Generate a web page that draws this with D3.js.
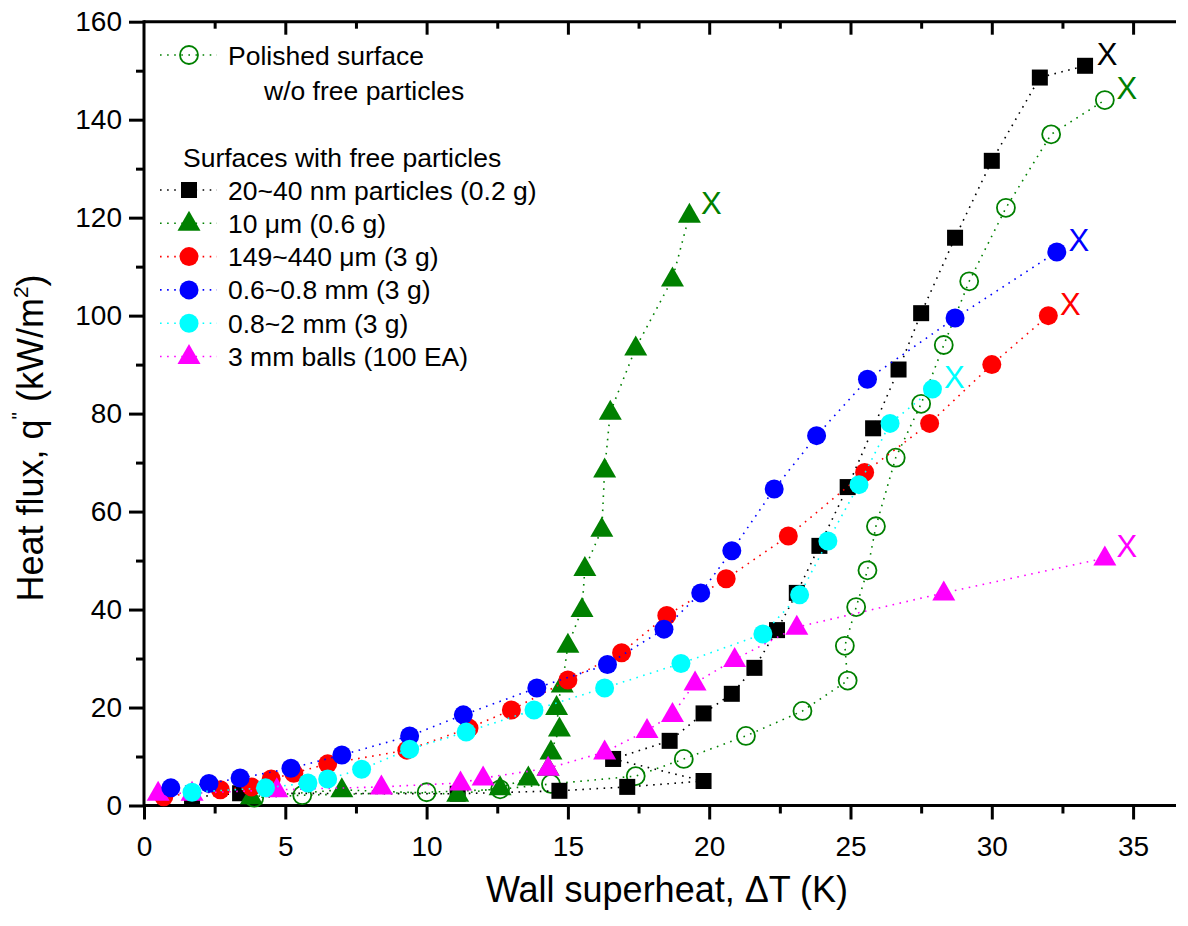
<!DOCTYPE html>
<html>
<meta charset="utf-8">
<title>Heat flux vs wall superheat</title>
<style>
html, body { margin: 0; background: #fff; }
svg { font-family: "Liberation Sans", Arial, sans-serif; }
.axis path { display: none; }
.axis line { stroke: #000; stroke-width: 3; }
.axis text { font-size: 28px; fill: #000; }
.series path.link { fill: none; stroke-width: 1.6; stroke-dasharray: 1.6 5.5; }
.legend text { font-size: 26.5px; fill: #000; }
</style>
<body>
<svg></svg>
<script src="https://d3js.org/d3.v7.min.js"></script>
<script>

// ---- data ----
var polishedX = [3.9, 5.6, 10.0, 12.6, 14.4, 17.4, 19.1, 21.3, 23.3, 24.9, 24.8, 25.2, 25.6, 25.9, 26.6, 27.5, 28.3, 29.2, 30.5, 32.1, 34.0];
var polishedY = [1.6, 2.1, 2.7, 3.3, 4.4, 6.0, 9.5, 14.2, 19.3, 25.5, 32.6, 40.5, 48, 57, 71, 82, 94, 107, 122, 137, 144];

var nanoX = [1.7, 3.4, 11.1, 14.7, 17.1, 19.8, 16.6, 18.6, 19.8, 20.8, 21.6, 22.4, 23.1, 23.9, 24.9, 25.8, 26.7, 27.5, 28.7, 30.0, 31.7, 33.3];
var nanoY = [1.7, 2.5, 2.4, 3.0, 3.8, 5.0, 9.5, 13.2, 18.8, 22.8, 28.1, 35.8, 43.4, 53, 65, 77, 89, 100.5, 115.9, 131.6, 148.6, 151];

var microX = [3.8, 7.0, 11.1, 12.6, 13.6, 14.3, 14.4, 14.7, 14.6, 14.8, 15.0, 15.5, 15.6, 16.2, 16.3, 16.5, 17.4, 18.7, 19.3];
var microY = [1.8, 3.2, 2.3, 3.6, 5.6, 7.6, 10.9, 15.6, 20.0, 24.6, 32.7, 40.0, 48.4, 56.4, 68.5, 80.3, 93.4, 107.5, 120.5];

var redX = [0.7, 2.7, 3.8, 4.5, 5.3, 6.5, 9.3, 11.5, 13.0, 15.0, 16.9, 18.5, 20.6, 22.8, 25.5, 27.8, 30.0, 32.0];
var redY = [1.8, 3.2, 3.8, 5.4, 6.6, 8.5, 11.3, 15.8, 19.5, 25.6, 31.2, 38.8, 46.3, 55, 68, 78, 90, 100];

var blueX = [0.95, 2.3, 3.4, 5.2, 7.0, 9.4, 11.3, 13.9, 16.4, 18.4, 19.7, 20.8, 22.3, 23.8, 25.6, 28.7, 32.3];
var blueY = [3.6, 4.5, 5.6, 7.6, 10.3, 14.2, 18.5, 24.0, 28.8, 36.0, 43.4, 52.0, 64.6, 75.5, 87.0, 99.5, 113.0];

var cyanX = [1.7, 4.3, 5.8, 6.5, 7.7, 9.4, 11.4, 13.8, 16.3, 19.0, 21.9, 23.2, 24.2, 25.3, 26.4, 27.9];
var cyanY = [2.7, 3.6, 4.6, 5.4, 7.4, 11.5, 15.0, 19.5, 24.0, 29.0, 35.0, 43.0, 54.0, 65.5, 78.0, 85.0];

var ballX = [0.5, 1.7, 4.7, 8.4, 11.2, 12.0, 14.3, 16.3, 17.8, 18.7, 19.5, 20.9, 23.1, 28.3, 34.0];
var ballY = [2.5, 2.5, 3.2, 3.8, 4.6, 5.6, 7.6, 10.9, 15.3, 18.6, 25.0, 29.8, 36.4, 43.4, 50.5];

var xMajor = [0, 5, 10, 15, 20, 25, 30, 35];
var xMinor = [2.5, 7.5, 12.5, 17.5, 22.5, 27.5, 32.5];
var yMajor = [0, 20, 40, 60, 80, 100, 120, 140, 160];
var yMinor = [10, 30, 50, 70, 90, 110, 130, 150];

var labels = ["20~40 nm particles (0.2 g)", "10 \u03bcm (0.6 g)", "149~440 \u03bcm (3 g)",
              "0.6~0.8 mm (3 g)", "0.8~2 mm (3 g)", "3 mm balls (100 EA)"];

// ---- layout ----
var W = 1188, H = 926;
var svg = d3.select("svg").attr("width", W).attr("height", H);

var plotLeft = 144, plotTop = 21.7, plotBottom = 805.5, plotRight = 1176;
var x = d3.scaleLinear().domain([0, 37]).range([plotLeft, plotLeft + 37 * 28.26]);
var y = d3.scaleLinear().domain([0, 160]).range([plotBottom, plotTop]);

function zip(xs, ys) { return xs.map(function(v, i) { return [v, ys[i]]; }); }

var triPath = "M0,-12.5L11.5,7.5L-11.5,7.5Z";

// draw order bottom -> top
var series = [
  {name: "polished", data: zip(polishedX, polishedY), color: "#008000", shape: "open"},
  {name: "nano", data: zip(nanoX, nanoY), color: "#000000", shape: "square"},
  {name: "micro", data: zip(microX, microY), color: "#008000", shape: "tri"},
  {name: "red", data: zip(redX, redY), color: "#ff0000", shape: "circle"},
  {name: "ball", data: zip(ballX, ballY), color: "#ff00ff", shape: "tri"},
  {name: "blue", data: zip(blueX, blueY), color: "#0000ff", shape: "circle"},
  {name: "cyan", data: zip(cyanX, cyanY), color: "#00ffff", shape: "circle"}
];

function addMarker(sel, shape, color) {
  if (shape === "square") {
    sel.append("rect").attr("x", -8).attr("y", -8).attr("width", 16).attr("height", 16).attr("fill", color);
  } else if (shape === "tri") {
    sel.append("path").attr("d", triPath).attr("fill", color);
  } else if (shape === "open") {
    sel.append("circle").attr("r", 9).attr("fill", "none").attr("stroke", color).attr("stroke-width", 1.8);
  } else {
    sel.append("circle").attr("r", 9.5).attr("fill", color);
  }
}

// ---- axes ----
svg.append("g").attr("class", "axis")
    .attr("transform", "translate(0," + plotBottom + ")")
    .call(d3.axisBottom(x).tickValues(xMajor).tickSizeInner(14).tickSizeOuter(0).tickPadding(17));
svg.append("g").attr("class", "axis")
    .attr("transform", "translate(0," + plotBottom + ")")
    .call(d3.axisBottom(x).tickValues(xMinor).tickSize(8).tickFormat(""));
svg.append("g").attr("class", "axis")
    .attr("transform", "translate(0," + plotTop + ")")
    .call(d3.axisBottom(x).tickValues(xMajor.slice(1)).tickSize(13).tickFormat(""));
svg.append("g").attr("class", "axis")
    .attr("transform", "translate(0," + plotTop + ")")
    .call(d3.axisBottom(x).tickValues(xMinor).tickSize(7).tickFormat(""));
svg.append("g").attr("class", "axis")
    .attr("transform", "translate(" + plotLeft + ",0)")
    .call(d3.axisLeft(y).tickValues(yMajor).tickSizeInner(15).tickSizeOuter(0).tickPadding(7));
svg.append("g").attr("class", "axis")
    .attr("transform", "translate(" + plotLeft + ",0)")
    .call(d3.axisLeft(y).tickValues(yMinor).tickSize(8).tickFormat(""));

// frame lines
svg.append("line").attr("x1", plotLeft).attr("x2", plotRight).attr("y1", plotBottom).attr("y2", plotBottom)
    .attr("stroke", "#000").attr("stroke-width", 3);
svg.append("line").attr("x1", plotLeft).attr("x2", plotRight).attr("y1", plotTop).attr("y2", plotTop)
    .attr("stroke", "#000").attr("stroke-width", 3);
svg.append("line").attr("x1", plotLeft).attr("x2", plotLeft).attr("y1", plotTop - 1.5).attr("y2", plotBottom + 1.5)
    .attr("stroke", "#000").attr("stroke-width", 3);

// axis titles
svg.append("text")
    .attr("x", 667).attr("y", 902)
    .attr("text-anchor", "middle")
    .style("font-size", "36px")
    .text("Wall superheat, \u0394T (K)");

var yt = svg.append("text")
    .attr("transform", "translate(43,438) rotate(-90)")
    .attr("text-anchor", "middle")
    .style("font-size", "36px");
yt.append("tspan").text("Heat flux, q");
yt.append("tspan").attr("dy", -17).style("font-size", "21px").text("\"");
yt.append("tspan").attr("dy", 17).text(" (kW/m");
yt.append("tspan").attr("dy", -15).style("font-size", "21px").text("2");
yt.append("tspan").attr("dy", 15).text(")");

// ---- series ----
var line = d3.line().x(function(d) { return x(d[0]); }).y(function(d) { return y(d[1]); });
var plot = svg.append("g");

series.forEach(function(s) {
  var g = plot.append("g").attr("class", "series");
  g.append("path").attr("class", "link").attr("d", line(s.data)).attr("stroke", s.color);
  g.selectAll("g.pt")
      .data(s.data)
      .enter().append("g")
        .attr("class", "pt")
        .attr("transform", function(d) { return "translate(" + x(d[0]) + "," + y(d[1]) + ")"; })
        .each(function() { addMarker(d3.select(this), s.shape, s.color); });
});

// "X" marks next to each last point
series.forEach(function(s) {
  var last = s.data[s.data.length - 1];
  svg.append("text")
      .attr("x", x(last[0]) + 22)
      .attr("y", y(last[1]) - 12)
      .attr("text-anchor", "middle")
      .attr("dy", "0.36em")
      .style("font-size", "31px")
      .attr("fill", s.color)
      .text("X");
});

// ---- legend ----
var legend = svg.append("g").attr("class", "legend");

function legendRow(yy, shape, color, label) {
  var row = legend.append("g").attr("transform", "translate(0," + yy + ")");
  row.append("line").attr("x1", 160).attr("x2", 217).attr("y1", 0).attr("y2", 0)
      .attr("stroke", color).attr("stroke-width", 1.6).attr("stroke-dasharray", "1.6 5.5");
  var m = row.append("g").attr("transform", "translate(189,0)");
  addMarker(m, shape, color);
  row.append("text").attr("x", 228).attr("dy", "0.36em").text(label);
}

legendRow(55, "open", "#008000", "Polished surface");
legend.append("text").attr("x", 264).attr("y", 90).attr("dy", "0.36em").text("w/o free particles");
legend.append("text").attr("x", 183).attr("y", 157).attr("dy", "0.36em").text("Surfaces with free particles");

var legendOrder = ["nano", "micro", "red", "blue", "cyan", "ball"];
legendOrder.forEach(function(name, i) {
  var s = series.filter(function(t) { return t.name === name; })[0];
  legendRow(190 + i * 33.3, s.shape, s.color, labels[i]);
});

</script>
</body>
</html>
